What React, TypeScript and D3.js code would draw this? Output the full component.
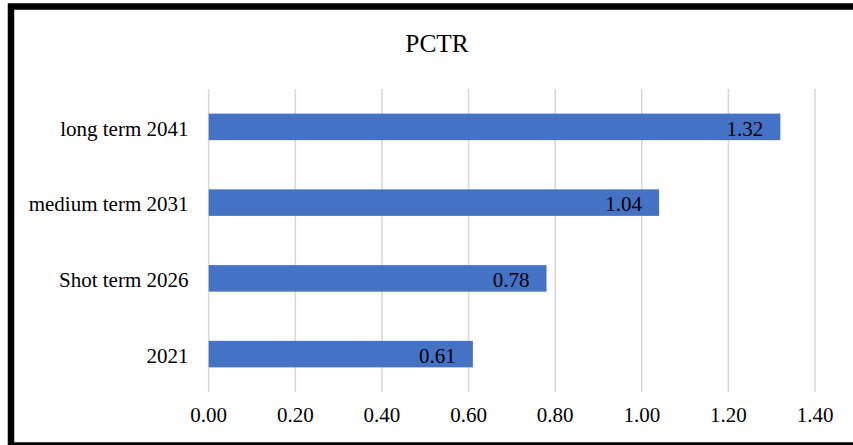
import React from "react";
import * as d3 from "d3";

const categories = ["long term 2041", "medium term 2031", "Shot term 2026", "2021"];
const values = [1.32, 1.04, 0.78, 0.61];
const ticks = [0, 0.2, 0.4, 0.6, 0.8, 1.0, 1.2, 1.4];
const title = "PCTR";

export default function App() {
  const W = 853;
  const H = 445;
  const x = d3.scaleLinear().domain([0, 1.4]).range([208.7, 815]);
  const y = d3
    .scaleBand<string>()
    .domain(categories)
    .range([89, 392])
    .paddingInner(0.65)
    .paddingOuter(0.325);
  const font = "'Liberation Serif', 'Times New Roman', serif";
  return (
    <div style={{ position: "absolute", left: 0, top: 0 }}>
      <svg width={W} height={H} style={{ display: "block" }}>
        <rect x={0} y={0} width={W} height={H} fill="#fff" />
        <text x={437} y={51.5} textAnchor="middle" fontFamily={font} fontSize={25.3} fill="#000">
          {title}
        </text>
        {ticks.map((t) => (
          <g key={t}>
            <line x1={x(t)} x2={x(t)} y1={89} y2={392} stroke="#d9d9d9" strokeWidth={1.6} />
            <text x={x(t)} y={422} textAnchor="middle" fontFamily={font} fontSize={21} fill="#000">
              {d3.format(".2f")(t)}
            </text>
          </g>
        ))}
        {categories.map((c, i) => {
          const yc = (y(c) as number) + y.bandwidth() / 2;
          return (
            <g key={c}>
              <rect
                x={x(0)}
                y={y(c)}
                width={x(values[i]) - x(0)}
                height={y.bandwidth()}
                fill="#4472C4"
              />
              <text x={188.5} y={yc + 8.7} textAnchor="end" fontFamily={font} fontSize={21} fill="#000">
                {c}
              </text>
              <text
                x={x(values[i]) - 17}
                y={yc + 8.7}
                textAnchor="end"
                fontFamily={font}
                fontSize={21}
                fill="#000"
              >
                {d3.format(".2f")(values[i])}
              </text>
            </g>
          );
        })}
        <rect x={11} y={6.5} width={900} height={439} fill="none" stroke="#000" strokeWidth={6.5} />
      </svg>
    </div>
  );
}
